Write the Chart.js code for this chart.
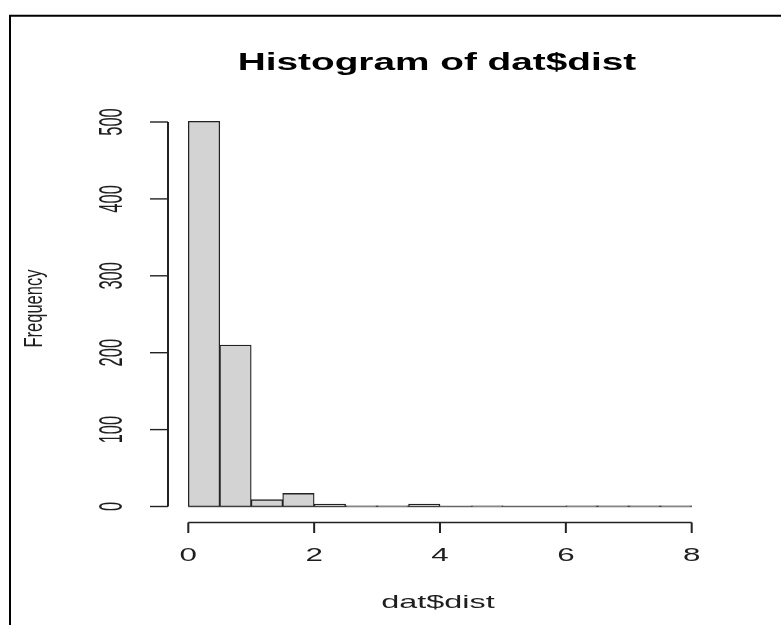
<!DOCTYPE html>
<html>
<head>
<meta charset="utf-8">
<title>Histogram of dat$dist</title>
<script src="https://cdn.jsdelivr.net/npm/chart.js@4"></script>
<style>
  html, body { margin: 0; padding: 0; background: #fff; }
  #wrap { position: relative; width: 781px; height: 625px; }
</style>
</head>
<body>
<div id="wrap"><canvas id="hist" width="781" height="625"></canvas></div>
<script>
// hodnoty (šířka třídy 0.5)
const binMids = [0.25, 0.75, 1.25, 1.75, 2.25, 2.75, 3.25, 3.75, 4.25, 4.75, 5.25, 5.75, 6.25, 6.75, 7.25, 7.75];
const counts = [501, 210, 9, 17, 3, 1, 1, 3, 0, 1, 0, 0, 1, 1, 1, 1];
const xTicks = [0, 2, 4, 6, 8];
const yTicks = [0, 100, 200, 300, 400, 500];

const mainTitle = "Histogram of dat$dist";
const xTitle = "dat$dist";
const yTitle = "Frequency";

const FONT = "'Liberation Sans', Arial, sans-serif";

// text roztažený vodorovně (obrázek je zdeformovaný)
function stretchedText(ctx, text, x, y, font, k, rotate, color) {
  ctx.save();
  ctx.translate(x, y);
  ctx.scale(k, 1);
  if (rotate) ctx.rotate(-Math.PI / 2);
  ctx.font = font;
  ctx.fillStyle = color || "#1e1e1e";
  ctx.textAlign = "center";
  ctx.textBaseline = "alphabetic";
  ctx.fillText(text, 0, 0);
  ctx.restore();
}

function line(ctx, x1, y1, x2, y2, w) {
  ctx.beginPath();
  ctx.lineWidth = w;
  ctx.moveTo(x1, y1);
  ctx.lineTo(x2, y2);
  ctx.stroke();
}

// osy ve stylu base R grafiky
const rAxes = {
  id: "rAxes",
  beforeDatasetsDraw(chart) {
    const { ctx, scales: { x, y } } = chart;
    ctx.save();
    ctx.strokeStyle = "#666";
    line(ctx, x.getPixelForValue(xTicks[0]), y.getPixelForValue(0),
      x.getPixelForValue(xTicks[xTicks.length - 1]), y.getPixelForValue(0), 1.4);
    ctx.restore();
  },
  afterDraw(chart) {
    const { ctx, scales: { x, y } } = chart;
    ctx.save();

    // rámeček
    ctx.strokeStyle = "#000";
    line(ctx, 9, 15.7, 781, 15.7, 2);
    line(ctx, 10, 15, 10, 625, 2);

    ctx.strokeStyle = "#222";
    // osa y
    const yAxisX = 168;
    line(ctx, yAxisX, y.getPixelForValue(yTicks[0]), yAxisX, y.getPixelForValue(yTicks[yTicks.length - 1]), 2);
    yTicks.forEach((v) => {
      const py = y.getPixelForValue(v);
      line(ctx, 150, py, yAxisX, py, 1.4);
      stretchedText(ctx, String(v), 122, py, "16.5px " + FONT, 2.05, true);
    });

    // osa x
    const xAxisY = 522.5;
    line(ctx, x.getPixelForValue(xTicks[0]), xAxisY, x.getPixelForValue(xTicks[xTicks.length - 1]), xAxisY, 1.4);
    xTicks.forEach((v) => {
      const px = x.getPixelForValue(v);
      line(ctx, px, xAxisY, px, 533, 2);
      stretchedText(ctx, String(v), px, 561, "19px " + FONT, 1.65, false);
    });

    const midX = (x.getPixelForValue(0) + x.getPixelForValue(8)) / 2 - 2;
    stretchedText(ctx, xTitle, midX, 608, "18.5px " + FONT, 1.75, false);
    stretchedText(ctx, yTitle, 41.6, 308.5, "16.5px " + FONT, 1.55, true);
    stretchedText(ctx, mainTitle, midX - 1, 69.5, "bold 24.7px " + FONT, 1.57, false, "#000");

    ctx.restore();
  },
};

new Chart(document.getElementById("hist"), {
  type: "bar",
  data: {
    datasets: [{
      label: "dat$dist",
      data: binMids.map((m, i) => ({ x: m, y: counts[i] })),
      backgroundColor: "#d3d3d3",
      borderColor: "#222",
      borderWidth: { top: 1.4, bottom: 1.2, left: 1.3, right: 1.3 },
      borderSkipped: false,
      barPercentage: 1,
      categoryPercentage: 1,
      clip: false,
    }],
  },
  options: {
    responsive: false,
    animation: false,
    layout: { padding: { left: 188.3, right: 89.3, top: 122, bottom: 118.5 } },
    plugins: {
      legend: { display: false },
      title: { display: false },
      tooltip: { enabled: false },
    },
    scales: {
      x: { type: "linear", min: 0, max: 8, offset: false, display: false },
      y: { type: "linear", min: 0, max: 500, display: false },
    },
  },
  plugins: [rAxes],
});
</script>
</body>
</html>
